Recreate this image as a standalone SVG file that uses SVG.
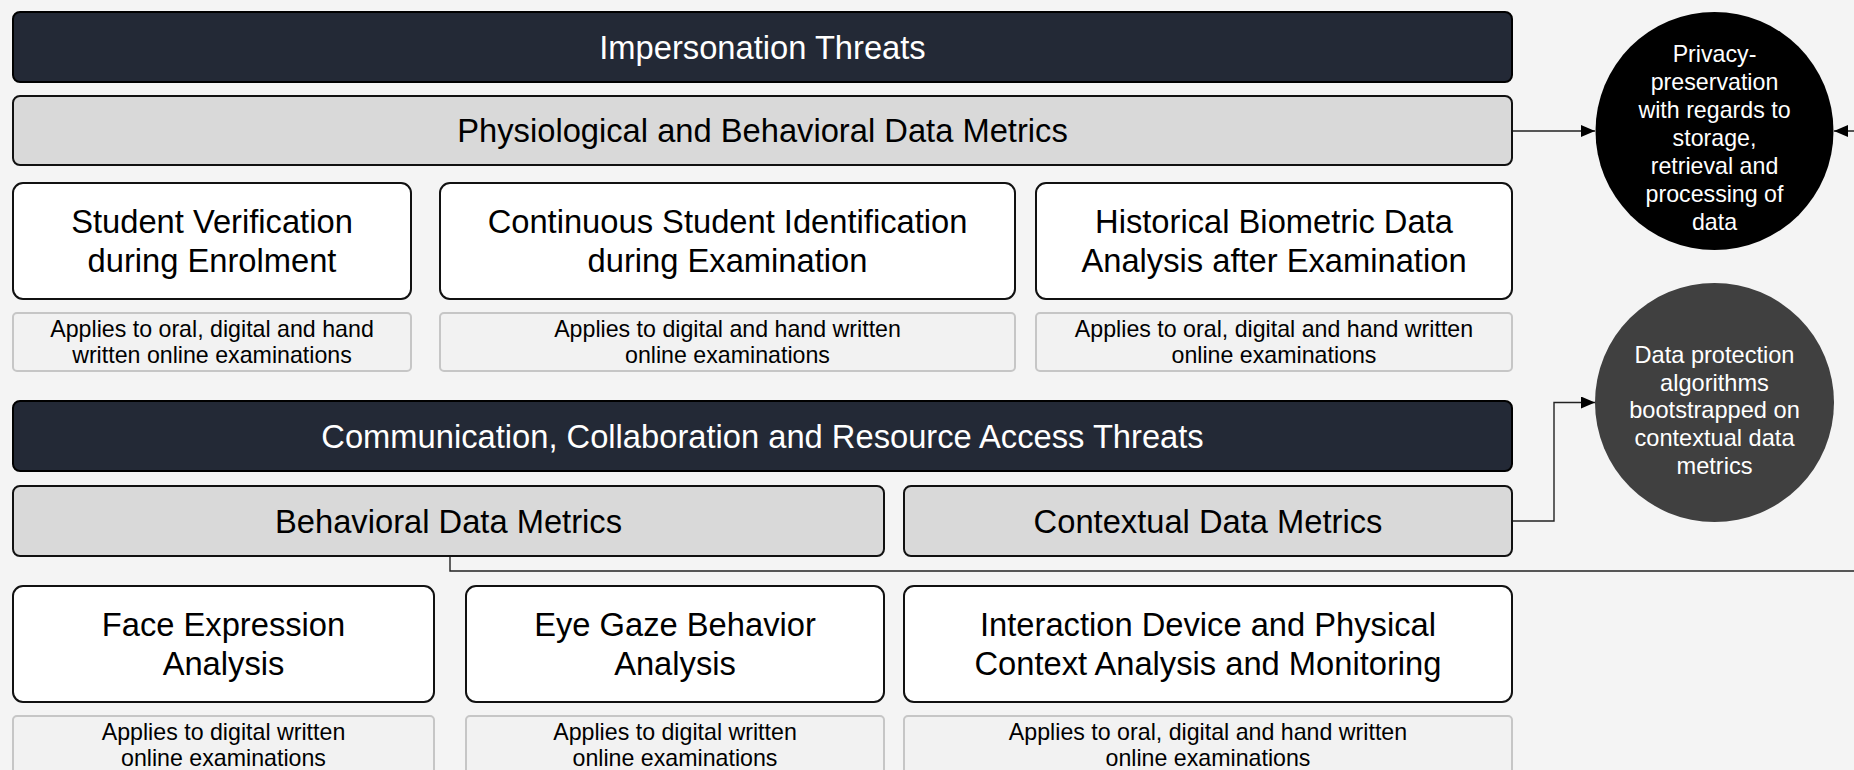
<svg xmlns="http://www.w3.org/2000/svg" width="1854" height="770" viewBox="0 0 1854 770">
<style>
text{font-family:"Liberation Sans",Arial,Helvetica,sans-serif;text-anchor:middle}
.dark{fill:#232936;stroke:#000;stroke-width:2}
.gray{fill:#d9d9d9;stroke:#111;stroke-width:2}
.box{fill:#ffffff;stroke:#111;stroke-width:2}
.note{fill:#f2f2f2;stroke:#c6c6c6;stroke-width:2}
.big{font-size:32.7px;fill:#000}
.bigw{font-size:32.7px;fill:#fff}
.sm{font-size:23.2px;fill:#000}
.c1{font-size:23.2px;fill:#fff}
.c2{font-size:23.6px;fill:#fff}
.conn{fill:none;stroke:#222;stroke-width:1.4}
</style>
<defs>
<marker id="arr" viewBox="0 0 14 12" refX="14" refY="6" markerWidth="14" markerHeight="12" markerUnits="userSpaceOnUse" orient="auto">
<path d="M0,0 L14,6 L0,12 Z" fill="#000"/>
</marker>
</defs>
<rect x="0" y="0" width="1854" height="770" fill="#f4f4f4"/>

<g id="connectors">
<path class="conn" d="M1512,131 H1595" marker-end="url(#arr)"/>
<path class="conn" d="M1512,521 H1554 V402.5 H1595" marker-end="url(#arr)"/>
<path class="conn" d="M450,556 V571 H1864 V131 H1834" marker-end="url(#arr)"/>
</g>

<g id="impersonation-threats">
<rect class="dark" x="13" y="12" width="1499" height="70" rx="7"/>
<text class="bigw" x="762.5" y="59">Impersonation Threats</text>
</g>
<g id="physiological-behavioral">
<rect class="gray" x="13" y="96" width="1499" height="69" rx="7"/>
<text class="big" x="762.5" y="142">Physiological and Behavioral Data Metrics</text>
</g>

<g id="student-verification">
<rect class="box" x="13" y="183" width="398" height="116" rx="10"/>
<text class="big" x="212" y="233">Student Verification</text>
<text class="big" x="212" y="272">during Enrolment</text>
</g>
<g id="continuous-identification">
<rect class="box" x="440" y="183" width="575" height="116" rx="10"/>
<text class="big" x="727.5" y="233">Continuous Student Identification</text>
<text class="big" x="727.5" y="272">during Examination</text>
</g>
<g id="historical-biometric">
<rect class="box" x="1036" y="183" width="476" height="116" rx="10"/>
<text class="big" x="1274" y="233">Historical Biometric Data</text>
<text class="big" x="1274" y="272">Analysis after Examination</text>
</g>

<g id="note-1">
<rect class="note" x="13" y="313" width="398" height="58" rx="4"/>
<text class="sm" x="212" y="337">Applies to oral, digital and hand</text>
<text class="sm" x="212" y="363">written online examinations</text>
</g>
<g id="note-2">
<rect class="note" x="440" y="313" width="575" height="58" rx="4"/>
<text class="sm" x="727.5" y="337">Applies to digital and hand written</text>
<text class="sm" x="727.5" y="363">online examinations</text>
</g>
<g id="note-3">
<rect class="note" x="1036" y="313" width="476" height="58" rx="4"/>
<text class="sm" x="1274" y="337">Applies to oral, digital and hand written</text>
<text class="sm" x="1274" y="363">online examinations</text>
</g>

<g id="communication-threats">
<rect class="dark" x="13" y="401" width="1499" height="70" rx="7"/>
<text class="bigw" x="762.5" y="448">Communication, Collaboration and Resource Access Threats</text>
</g>
<g id="behavioral-metrics">
<rect class="gray" x="13" y="486" width="871" height="70" rx="7"/>
<text class="big" x="448.5" y="532.5">Behavioral Data Metrics</text>
</g>
<g id="contextual-metrics">
<rect class="gray" x="904" y="486" width="608" height="70" rx="7"/>
<text class="big" x="1208" y="532.5">Contextual Data Metrics</text>
</g>

<g id="face-expression">
<rect class="box" x="13" y="586" width="421" height="116" rx="10"/>
<text class="big" x="223.5" y="636">Face Expression</text>
<text class="big" x="223.5" y="675">Analysis</text>
</g>
<g id="eye-gaze">
<rect class="box" x="466" y="586" width="418" height="116" rx="10"/>
<text class="big" x="675" y="636">Eye Gaze Behavior</text>
<text class="big" x="675" y="675">Analysis</text>
</g>
<g id="interaction-device">
<rect class="box" x="904" y="586" width="608" height="116" rx="10"/>
<text class="big" x="1208" y="636">Interaction Device and Physical</text>
<text class="big" x="1208" y="675">Context Analysis and Monitoring</text>
</g>

<g id="note-4">
<rect class="note" x="13" y="716" width="421" height="58" rx="4"/>
<text class="sm" x="223.5" y="740">Applies to digital written</text>
<text class="sm" x="223.5" y="766">online examinations</text>
</g>
<g id="note-5">
<rect class="note" x="466" y="716" width="418" height="58" rx="4"/>
<text class="sm" x="675" y="740">Applies to digital written</text>
<text class="sm" x="675" y="766">online examinations</text>
</g>
<g id="note-6">
<rect class="note" x="904" y="716" width="608" height="58" rx="4"/>
<text class="sm" x="1208" y="740">Applies to oral, digital and hand written</text>
<text class="sm" x="1208" y="766">online examinations</text>
</g>

<g id="privacy-preservation">
<circle cx="1714.5" cy="131" r="119" fill="#000"/>
<text class="c1" x="1714.5" y="61.5">Privacy-</text>
<text class="c1" x="1714.5" y="89.5">preservation</text>
<text class="c1" x="1714.5" y="117.5">with regards to</text>
<text class="c1" x="1714.5" y="145.5">storage,</text>
<text class="c1" x="1714.5" y="173.5">retrieval and</text>
<text class="c1" x="1714.5" y="201.5">processing of</text>
<text class="c1" x="1714.5" y="229.5">data</text>
</g>
<g id="data-protection">
<circle cx="1714.5" cy="402.5" r="119.5" fill="#404040"/>
<text class="c2" x="1714.5" y="363">Data protection</text>
<text class="c2" x="1714.5" y="390.7">algorithms</text>
<text class="c2" x="1714.5" y="418.4">bootstrapped on</text>
<text class="c2" x="1714.5" y="446.1">contextual data</text>
<text class="c2" x="1714.5" y="473.8">metrics</text>
</g>
</svg>
